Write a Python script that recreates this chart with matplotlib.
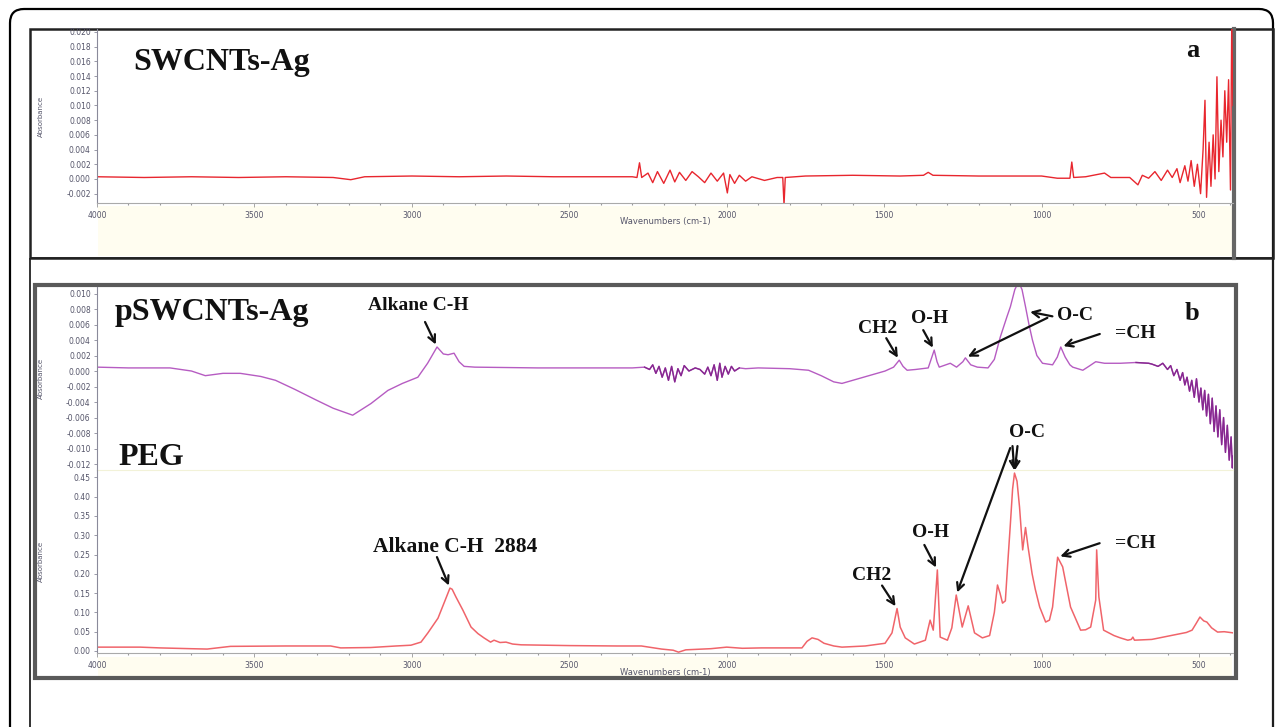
import numpy as np
import matplotlib.pyplot as plt
from matplotlib.patches import Rectangle, FancyBboxPatch
from matplotlib.ticker import MultipleLocator, FormatStrFormatter

W, H = 1279, 727

# ---- spectra: wavenumber (cm-1) / absorbance ----
swcnt_wn = [4000, 3850, 3700, 3550, 3400, 3250, 3194, 3150, 3000, 2850, 2700, 2550, 2400, 2300,
            2285, 2277, 2270, 2250, 2235, 2220, 2200, 2180, 2165, 2150, 2130, 2110, 2090, 2070,
            2050, 2030, 2010, 1998, 1990, 1975, 1960, 1940, 1920, 1880, 1840, 1822, 1818, 1814,
            1750, 1600, 1450, 1375, 1360, 1345, 1200, 1050, 1000, 950, 910, 904, 898, 860, 800,
            780, 720, 694, 680, 660, 640, 620, 600, 585, 570, 560, 545, 535, 525, 515, 505, 495,
            487, 481, 476, 468, 462, 455, 449, 443, 437, 430, 424, 418, 412, 406, 400, 396, 392]
swcnt_abs = [0.0003, 0.0002, 0.0003, 0.0002, 0.0003, 0.0002, -0.0001, 0.0003, 0.0004, 0.0003,
             0.0004, 0.0003, 0.0003, 0.0003, 0.0002, 0.0022, 0.0002, 0.0008, -0.0005, 0.0010,
             -0.0006, 0.0012, -0.0004, 0.0009, -0.0002, 0.0010, 0.0003, -0.0005, 0.0008, -0.0003,
             0.0008, -0.0019, 0.0006, -0.0006, 0.0005, -0.0003, 0.0003, -0.0002, 0.0002, 0.0002,
             -0.0035, 0.0002, 0.0004, 0.0005, 0.0004, 0.0005, 0.0009, 0.0005, 0.0004, 0.0004,
             0.0004, 0.0001, 0.0001, 0.0023, 0.0002, 0.0003, 0.0008, 0.0002, 0.0002, -0.0008,
             0.0005, 0.0001, 0.0010, -0.0002, 0.0012, 0.0002, 0.0014, -0.0005, 0.0018, -0.0003,
             0.0025, -0.0010, 0.0020, -0.0020, 0.0040, 0.0107, -0.0025, 0.0050, -0.0010, 0.0060,
             0.0000, 0.0139, 0.0010, 0.0080, 0.0030, 0.0120, 0.0050, 0.0135, -0.0015, 0.0210, 0.0100]

pswcnt_wn = [4000, 3900, 3768, 3700, 3656, 3600, 3545, 3480, 3433, 3370, 3306, 3250, 3188, 3130,
             3076, 3030, 2981, 2950, 2920, 2900, 2885, 2866, 2850, 2834, 2800, 2600, 2400, 2300,
             2261, 2245, 2235, 2225, 2215, 2205, 2195, 2185, 2175, 2165, 2155, 2145, 2135, 2120,
             2100, 2085, 2070, 2060, 2050, 2040, 2030, 2022, 2015, 2005, 1995, 1985, 1975, 1960,
             1940, 1900, 1800, 1740, 1700, 1660, 1634, 1600, 1550, 1497, 1470, 1452, 1440, 1427,
             1400, 1360, 1341, 1332, 1325, 1290, 1270, 1250, 1242, 1225, 1204, 1170, 1150, 1131,
             1110, 1099, 1085, 1073, 1062, 1051, 1040, 1029, 1015, 997, 965, 950, 939, 925, 910,
             901, 869, 850, 828, 800, 750, 700, 660, 650, 630, 615, 600, 590, 580, 570, 560, 552,
             545, 538, 530, 523, 515, 508, 500, 494, 488, 482, 476, 470, 464, 458, 452, 446, 440,
             434, 428, 422, 416, 410, 404, 398, 394, 392]
pswcnt_abs = [0.0005, 0.0004, 0.0004, 0.0000, -0.0006, -0.0003, -0.0003, -0.0007, -0.0012,
              -0.0024, -0.0037, -0.0048, -0.0057, -0.0042, -0.0025, -0.0016, -0.0008, 0.0010,
              0.0031, 0.0022, 0.0021, 0.0023, 0.0012, 0.0006, 0.0005, 0.0004, 0.0004, 0.0004,
              0.0005, 0.0002, 0.0008, -0.0003, 0.0006, -0.0008, 0.0004, -0.0012, 0.0006, -0.0014,
              0.0003, -0.0006, 0.0007, 0.0000, 0.0004, 0.0002, -0.0004, 0.0005, -0.0006, 0.0008,
              -0.0012, 0.0010, -0.0008, 0.0006, -0.0004, 0.0006, 0.0000, 0.0004, 0.0003, 0.0004,
              0.0003, 0.0001, -0.0006, -0.0014, -0.0016, -0.0012, -0.0006, 0.0000, 0.0005, 0.0014,
              0.0006, 0.0001, 0.0002, 0.0004, 0.0027, 0.0012, 0.0005, 0.0010, 0.0005, 0.0012,
              0.0017, 0.0008, 0.0005, 0.0004, 0.0015, 0.0044, 0.0070, 0.0083, 0.0105, 0.0115,
              0.0105, 0.0083, 0.0060, 0.0040, 0.0020, 0.0010, 0.0008, 0.0018, 0.0031, 0.0018,
              0.0008, 0.0005, 0.0001, 0.0006, 0.0012, 0.0010, 0.0010, 0.0011, 0.0010, 0.0009,
              0.0006, 0.0010, 0.0002, 0.0007, -0.0006, 0.0002, -0.0012, -0.0002, -0.0018, -0.0008,
              -0.0026, -0.0012, -0.0034, -0.0010, -0.0040, -0.0022, -0.0050, -0.0025, -0.0058,
              -0.0030, -0.0068, -0.0035, -0.0078, -0.0045, -0.0085, -0.0050, -0.0095, -0.0060,
              -0.0105, -0.0070, -0.0115, -0.0085, -0.0125, -0.0110]

peg_wn = [4000, 3863, 3800, 3704, 3650, 3576, 3400, 3258, 3226, 3131, 3050, 3003, 2971, 2949, 2917,
          2895, 2879, 2872, 2860, 2838, 2812, 2790, 2771, 2750, 2739, 2720, 2701, 2680, 2653, 2500,
          2350, 2271, 2207, 2170, 2153, 2130, 2050, 2000, 1950, 1890, 1800, 1761, 1745, 1729, 1710,
          1691, 1660, 1634, 1560, 1497, 1475, 1459, 1449, 1433, 1404, 1369, 1354, 1344, 1331, 1322,
          1299, 1285, 1271, 1252, 1233, 1213, 1188, 1165, 1150, 1140, 1132, 1124, 1115, 1108, 1099,
          1092, 1086, 1078, 1070, 1060, 1051, 1043, 1030, 1020, 1006, 987, 975, 965, 949, 933, 908,
          876, 860, 844, 828, 825, 818, 803, 770, 750, 726, 715, 710, 705, 650, 583, 540, 522, 510,
          497, 485, 475, 460, 441, 420, 392]
peg_abs = [0.010, 0.010, 0.008, 0.006, 0.005, 0.012, 0.013, 0.013, 0.008, 0.009, 0.013, 0.015, 0.023,
           0.047, 0.085, 0.130, 0.163, 0.160, 0.140, 0.106, 0.062, 0.045, 0.034, 0.023, 0.028, 0.022,
           0.023, 0.018, 0.016, 0.014, 0.013, 0.013, 0.005, 0.002, -0.003, 0.003, 0.006, 0.010, 0.007,
           0.008, 0.008, 0.008, 0.025, 0.034, 0.030, 0.020, 0.013, 0.010, 0.013, 0.020, 0.047, 0.110,
           0.062, 0.034, 0.018, 0.028, 0.080, 0.054, 0.210, 0.036, 0.028, 0.060, 0.145, 0.062, 0.117,
           0.047, 0.034, 0.040, 0.100, 0.171, 0.150, 0.124, 0.130, 0.220, 0.330, 0.420, 0.461, 0.440,
           0.373, 0.262, 0.320, 0.270, 0.200, 0.160, 0.114, 0.075, 0.080, 0.114, 0.243, 0.218, 0.114,
           0.054, 0.055, 0.062, 0.132, 0.262, 0.140, 0.054, 0.040, 0.034, 0.028, 0.030, 0.036, 0.028,
           0.030, 0.041, 0.048, 0.054, 0.070, 0.088, 0.078, 0.075, 0.060, 0.049, 0.050, 0.047]

XLIM = (4000, 392)

fig = plt.figure(figsize=(W / 100, H / 100), dpi=100)


def px_axes(x0, y0, x1, y1):
    # axes placed by pixel box (top-left origin)
    return fig.add_axes([x0 / W, 1 - y1 / H, (x1 - x0) / W, (y1 - y0) / H])


# background frames
bg = px_axes(0, 0, W, H)
bg.set_xlim(0, W)
bg.set_ylim(H, 0)
bg.axis('off')
bg.set_zorder(0)
bg.add_patch(FancyBboxPatch((10, 9), 1263, 760, boxstyle='round,pad=0,rounding_size=14',
                            fc='white', ec='black', lw=1.6))
bg.add_patch(Rectangle((30, 29), 1243, 229, fill=False, ec='#222222', lw=1.8))
bg.add_patch(Rectangle((30, 258), 1243, 520, fill=False, ec='#222222', lw=1.3))
bg.add_patch(Rectangle((98, 206), 1134, 50, fc='#fffdf0', ec='none'))
bg.add_patch(Rectangle((98, 657), 1134, 19, fc='#fffdf0', ec='none'))
bg.add_patch(Rectangle((35, 285), 1201, 393, fill=False, ec='#5a5a5a', lw=3))
bg.plot([1234, 1234], [29, 258], color='#666666', lw=3)


def style(ax, ylim, step, fmt):
    ax.set_facecolor('none')
    ax.set_xlim(*XLIM)
    ax.set_ylim(*ylim)
    ax.spines['top'].set_visible(False)
    ax.spines['right'].set_visible(False)
    ax.spines['left'].set_color('#8a8a9a')
    ax.spines['left'].set_linewidth(0.8)
    ax.spines['bottom'].set_color('#aaaaaa')
    ax.spines['bottom'].set_linewidth(0.8)
    ax.yaxis.set_major_locator(MultipleLocator(step))
    ax.yaxis.set_major_formatter(FormatStrFormatter(fmt))
    ax.tick_params(axis='y', labelsize=5.5, colors='#8a8a9a', labelcolor='#55556a',
                   length=2.5, width=0.6, pad=2)
    ax.xaxis.set_major_locator(MultipleLocator(500))
    ax.xaxis.set_minor_locator(MultipleLocator(100))
    ax.tick_params(axis='x', which='major', labelsize=5.5, colors='#999999',
                   labelcolor='#55556a', length=3, width=0.6, pad=3)
    ax.tick_params(axis='x', which='minor', colors='#999999', length=1.5, width=0.8)
    ax.set_ylabel('Absorbance', fontsize=5, color='#55556a')
    ax.yaxis.set_label_coords(-0.047, 0.5)


lab = dict(family='Liberation Serif', weight='bold', color='#111111')
arrow = dict(arrowstyle='->', color='#111111', lw=1.6, mutation_scale=13, shrinkA=0, shrinkB=2)


def note(ax, text, xy, dtext, size=14):
    ax.annotate(text, xy=xy, xytext=dtext, textcoords='offset pixels', ha='center',
                va='center', fontsize=size, annotation_clip=False, zorder=5, **lab)


def arr(ax, xy, dstart):
    ax.annotate('', xy=xy, xytext=dstart, textcoords='offset pixels',
                arrowprops=arrow, annotation_clip=False, zorder=5)


# ---- panel a ----
axa = px_axes(97, 29, 1233, 203)
style(axa, (-0.00327, 0.0204), 0.002, '%.3f')
axa.plot(swcnt_wn, swcnt_abs, color='#e8262e', lw=1.0)
axa.set_xlabel('Wavenumbers (cm-1)', fontsize=6, color='#55556a')
axa.xaxis.set_label_coords(0.5, -0.08)

# ---- panel b, upper (pSWCNTs-Ag) ----
axb1 = px_axes(97, 287, 1233, 470)
style(axb1, (-0.01277, 0.01084), 0.002, '%.3f')
axb1.spines['bottom'].set_color('#f2f2d8')
axb1.tick_params(axis='x', which='both', bottom=False, labelbottom=False)
pw = np.array(pswcnt_wn)
pa = np.array(pswcnt_abs)
axb1.plot(pw, pa, color='#b65cc2', lw=1.0)
for lo, hi in [(1950, 2270), (392, 700)]:
    m = (pw >= lo) & (pw <= hi)
    axb1.plot(pw[m], pa[m], color='#86288f', lw=1.0)

# ---- panel b, lower (PEG) ----
axb2 = px_axes(97, 470, 1233, 653)
style(axb2, (-0.0052, 0.469), 0.05, '%.2f')
axb2.plot(peg_wn, peg_abs, color='#f0646a', lw=1.1)
axb2.set_xlabel('Wavenumbers (cm-1)', fontsize=6, color='#55556a')
axb2.xaxis.set_label_coords(0.5, -0.082)

# panel titles
fg = px_axes(0, 0, W, H)
fg.set_xlim(0, W)
fg.set_ylim(H, 0)
fg.axis('off')
fg.set_zorder(10)
fg.text(133, 70, 'SWCNTs-Ag', fontsize=23, ha='left', va='baseline', **lab)
fg.text(1186, 57, 'a', fontsize=19, ha='left', va='baseline', **lab)
fg.text(115, 320, 'pSWCNTs-Ag', fontsize=23, ha='left', va='baseline', **lab)
fg.text(1185, 320, 'b', fontsize=19, ha='left', va='baseline', **lab)
fg.text(118, 465, 'PEG', fontsize=23, ha='left', va='baseline', **lab)

# peak labels, upper b
note(axb1, 'Alkane C-H', (2920, 0.0031), (-19, 41))
arr(axb1, (2920, 0.0031), (-12, 25))
note(axb1, 'CH2', (1452, 0.0014), (-22, 32))
arr(axb1, (1452, 0.0014), (-13, 22))
note(axb1, 'O-H', (1341, 0.0027), (-5, 32))
arr(axb1, (1341, 0.0027), (-11, 20))
note(axb1, 'O-C', (1242, 0.0017), (110, 42))
arr(axb1, (1242, 0.0017), (82, 40))
arr(axb1, (1045, 0.0077), (25, -5))
note(axb1, '=CH', (939, 0.0031), (75, 13))
arr(axb1, (939, 0.0031), (39, 13))

# peak labels, PEG
note(axb2, 'Alkane C-H  2884', (2879, 0.163), (5, 41), size=15.5)
arr(axb2, (2879, 0.163), (-13, 31))
note(axb2, 'CH2', (1459, 0.110), (-25, 33))
arr(axb2, (1459, 0.110), (-15, 23))
note(axb2, 'O-H', (1331, 0.210), (-7, 37))
arr(axb2, (1331, 0.210), (-13, 25))
note(axb2, 'O-C', (1086, 0.461), (13, 41))
arr(axb2, (1086, 0.461), (-2, 27))
arr(axb2, (1086, 0.461), (3, 27))
arr(axb2, (1271, 0.145), (54, 147))
note(axb2, '=CH', (949, 0.243), (78, 14))
arr(axb2, (949, 0.243), (42, 14))

fig.savefig('out.png', dpi=100)
